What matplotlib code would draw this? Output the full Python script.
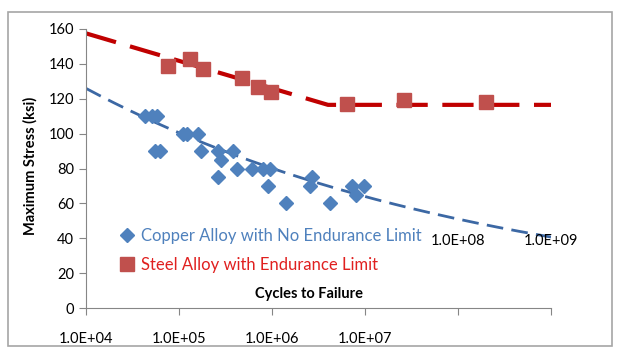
import numpy as np
import matplotlib
matplotlib.use("Agg")
from matplotlib import pyplot as plt
from matplotlib.patches import Rectangle

# copper alloy (no endurance limit)
cu_cycles = [4.3e4, 5.1e4, 5.8e4, 5.5e4, 6.3e4, 1.1e5, 1.22e5, 1.6e5, 1.72e5,
             2.6e5, 2.8e5, 2.6e5, 3.8e5, 4.2e5, 6.1e5, 8.0e5, 9.5e5, 9.0e5,
             1.42e6, 2.7e6, 2.56e6, 4.2e6, 7.2e6, 8.0e6, 9.7e6]
cu_stress = [110, 110, 110, 90, 90, 100, 100, 100, 90,
             90, 85, 75, 90, 80, 80, 80, 80, 70,
             60, 75, 70, 60, 70, 65, 70]

# copper trend line at each decade
cu_line_x = [1e4, 1e5, 1e6, 1e7, 1e8, 1e9]
cu_line_y = [126, 100.5, 80, 64, 51, 40.7]

# steel alloy (endurance limit)
st_cycles = [7.6e4, 1.31e5, 1.81e5, 4.75e5, 7.06e5, 9.7e5, 6.4e6, 2.6e7, 2.0e8]
st_stress = [139, 143, 137, 132, 127, 124, 117, 119, 118]

# steel trend line (sloped part, then endurance limit)
st_line_x = [1e4, 4e6, 1e9]
st_line_y = [157.5, 116.5, 116.5]

xticks = [1e4, 1e5, 1e6, 1e7, 1e8, 1e9]
xtick_labels = ["1.0E+04", "1.0E+05", "1.0E+06", "1.0E+07", "", ""]
yticks = [0, 20, 40, 60, 80, 100, 120, 140, 160]

plt.rcParams['font.family'] = ['Lato', 'DejaVu Sans']

fig = plt.figure(figsize=(6.24, 3.56), dpi=100)
fig.patches.append(Rectangle((8 / 624, 1 - 346 / 356), 604 / 624, 334 / 356,
                             transform=fig.transFigure, fill=False,
                             edgecolor='#a6a6a6', linewidth=1.2))
ax = fig.add_axes([86 / 624, 1 - 308 / 356, 465 / 624, 279 / 356])

# smooth power-law curve through the trend points
b, a = np.polyfit(np.log10(cu_line_x), np.log10(cu_line_y), 1)
xs = np.logspace(4, 9, 200)
ax.plot(xs, 10 ** a * xs ** b, color='#3c68a4', lw=2.0, dashes=(6, 3))
ax.plot(st_line_x, st_line_y, color='#c00000', lw=3.0, dashes=(7.5, 3.5))

ax.plot(cu_cycles, cu_stress, 'D', color='#4f81bd', ms=7.5, ls='none',
        label='Copper Alloy with No Endurance Limit')
ax.plot(st_cycles, st_stress, 's', color='#c0504d', ms=9.5, ls='none',
        label='Steel Alloy with Endurance Limit')

ax.set_xscale('log')
ax.set_xlim(1e4, 1e9)
ax.set_ylim(0, 160)
ax.set_xticks(xticks)
ax.set_xticklabels(xtick_labels)
ax.minorticks_off()
ax.set_yticks(yticks)
ax.tick_params(axis='both', colors='#868686', labelcolor='black',
               labelsize=10.5, length=5, direction='out')
ax.tick_params(axis='x', pad=12)
for s in ['top', 'right']:
    ax.spines[s].set_visible(False)
for s in ['left', 'bottom']:
    ax.spines[s].set_color('#868686')

# the 1e8 / 1e9 labels sit up in the plot area
ax.text(1e8, 38.4, "1.0E+08", ha='center', va='center', fontsize=10.5)
ax.text(1e9, 38.4, "1.0E+09", ha='center', va='center', fontsize=10.5)

ax.set_xlabel('Cycles to Failure', fontweight='bold', fontsize=10.5)
ax.xaxis.set_label_coords(0.48, 0.075)
ax.set_ylabel('Maximum Stress (ksi)', fontweight='bold', fontsize=10.5)
ax.yaxis.set_label_coords(-0.105, 0.51)

leg = ax.legend(loc='upper left', bbox_to_anchor=(0.06, 0.31), frameon=False,
                fontsize=12, handlelength=0.8, handletextpad=0.4,
                labelspacing=0.75, borderaxespad=0)
leg.get_texts()[0].set_color('#4f81bd')
leg.get_texts()[1].set_color('#e0201f')

fig.savefig('out.png', dpi=100)
